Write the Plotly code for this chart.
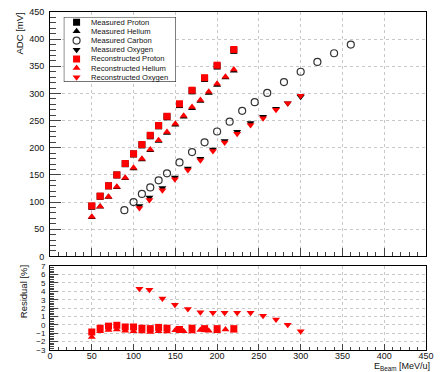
import plotly.graph_objects as go

# Beam energies [MeV/u], reconstructed / measured ADC amplitudes [mV] and residuals [%]
proton_E = [50, 60, 70, 80, 90, 100, 110, 120, 130, 140, 155, 170, 185, 200, 220]
proton_reco = [93, 111, 130, 150, 171, 189, 206, 223, 241, 258, 281, 306, 329, 352, 381]
proton_meas = [92.2, 110.6, 129.8, 149.9, 170.6, 188.5, 205.2, 222.0, 240.3, 257.0, 279.5, 304.8, 327.5, 350.4, 379.3]
proton_res = [-0.85, -0.4, -0.15, -0.05, -0.25, -0.25, -0.4, -0.45, -0.3, -0.4, -0.55, -0.4, -0.45, -0.45, -0.45]

helium_E = [50, 60, 70, 80, 90, 100, 110, 120, 130, 140, 150, 160, 170, 180, 190, 200, 210, 220]
helium_reco = [73, 92, 110, 128, 145, 163, 180, 197, 214, 229, 244, 259, 275, 288, 303, 318, 331, 344]
helium_meas = [71.9, 91.3, 109.3, 127.3, 144.0, 161.8, 178.6, 195.3, 212.4, 227.2, 242.4, 257.1, 272.8, 286.3, 300.9, 315.6, 329.2, 341.6]
helium_res = [-1.45, -0.75, -0.6, -0.55, -0.7, -0.75, -0.8, -0.85, -0.75, -0.8, -0.65, -0.75, -0.8, -0.6, -0.7, -0.75, -0.55, -0.7]

carbon_E = [89, 100, 110, 120, 130, 140, 155, 170, 185, 200, 215, 230, 245, 260, 280, 300, 320, 340, 360]
carbon_meas = [85, 100, 115, 127, 140, 153, 173, 192, 210, 230, 248, 268, 284, 301, 321, 340, 358, 374, 390]

oxygen_E = [107, 119, 134.5, 149.5, 165, 180, 195, 209, 224, 240, 255, 270.5, 284.5, 300]
oxygen_reco = [89, 104, 122, 142, 159, 177, 194, 209.5, 226, 242, 254.5, 270, 282, 296]
oxygen_meas = [92.8, 108.4, 125.8, 145.4, 162.0, 179.7, 196.8, 212.5, 229.3, 245.5, 257.3, 271.8, 282.0, 293.8]
oxygen_res = [4.3, 4.2, 3.15, 2.4, 1.9, 1.5, 1.45, 1.45, 1.45, 1.45, 1.1, 0.65, 0.0, -0.75]

legend_labels = ["Measured Proton", "Measured Helium", "Measured Carbon", "Measured Oxygen",
                 "Reconstructed Proton", "Reconstructed Helium", "Reconstructed Oxygen"]

RED = "#ff0000"
BLACK = "#000000"
FONT = "Liberation Sans, Arial, sans-serif"
TXT = "#111111"

sty = {
    "Measured Proton": dict(symbol="square", color=BLACK, size=7),
    "Measured Helium": dict(symbol="triangle-up", color=BLACK, size=7),
    "Measured Carbon": dict(symbol="circle-open", color="#333333", size=7, line=dict(width=1.2, color="#333333")),
    "Measured Oxygen": dict(symbol="triangle-down", color=BLACK, size=7),
    "Reconstructed Proton": dict(symbol="square", color=RED, size=7),
    "Reconstructed Helium": dict(symbol="triangle-up", color=RED, size=7),
    "Reconstructed Oxygen": dict(symbol="triangle-down", color=RED, size=7),
}

fig = go.Figure()


def pts(x, y, name, xa="x", ya="y"):
    fig.add_trace(go.Scatter(x=x, y=y, mode="markers", marker=sty[name], name=name,
                             showlegend=False, xaxis=xa, yaxis=ya, cliponaxis=False))


# Upper panel: measured (black) beneath reconstructed (red)
pts(proton_E, proton_meas, "Measured Proton")
pts(helium_E, helium_meas, "Measured Helium")
pts(carbon_E, carbon_meas, "Measured Carbon")
pts(oxygen_E, oxygen_meas, "Measured Oxygen")
pts(proton_E, proton_reco, "Reconstructed Proton")
pts(helium_E, helium_reco, "Reconstructed Helium")
pts(oxygen_E, oxygen_reco, "Reconstructed Oxygen")

# Lower panel: residuals
pts(helium_E, helium_res, "Reconstructed Helium", "x2", "y2")
pts(proton_E, proton_res, "Reconstructed Proton", "x2", "y2")
pts(oxygen_E, oxygen_res, "Reconstructed Oxygen", "x2", "y2")

W, H = 441, 372
ml, mr, mt, mb = 50, 9, 7, 22
pw, ph = W - ml - mr, H - mt - mb


def yfrac(py):
    return (H - mb - py) / ph


def xfrac(px):
    return (px - ml) / pw


# Legend drawn on its own small axis pair (pixel-like units inside the box)
LW, LH = 114, 66
row_y = [LH - 5.3 - 9.33 * i for i in range(len(legend_labels))]
for lab, yy in zip(legend_labels, row_y):
    fig.add_trace(go.Scatter(x=[13], y=[yy], mode="markers", marker=sty[lab],
                             showlegend=False, xaxis="x3", yaxis="y3", hoverinfo="skip"))
    fig.add_annotation(x=26, y=yy, xref="x3", yref="y3", text=lab, showarrow=False,
                       xanchor="left", yanchor="middle",
                       font=dict(family=FONT, size=7.6, color=TXT))
fig.add_shape(type="rect", xref="x3", yref="y3", x0=0, x1=LW, y0=0, y1=LH,
              line=dict(color=BLACK, width=1), fillcolor="white", layer="between")

grid = dict(showgrid=True, gridcolor="#c8c8c8", griddash="dot", gridwidth=1)
frame = dict(showline=True, linecolor=BLACK, linewidth=1, mirror=True, zeroline=False)
tickfont = dict(family=FONT, size=9, color=TXT)

fig.update_layout(
    width=W, height=H,
    margin=dict(l=ml, r=mr, t=mt, b=mb),
    paper_bgcolor="white", plot_bgcolor="white",
    showlegend=False,
    font=dict(family=FONT, size=9, color=TXT),
    xaxis=dict(domain=[0, 1], anchor="y", range=[0, 450], dtick=50, ticks="inside", ticklen=8,
               showticklabels=False, minor=dict(dtick=10, ticks="inside", ticklen=4),
               **grid, **frame),
    yaxis=dict(domain=[yfrac(255), 1], anchor="x", range=[0, 450], dtick=50, ticks="inside",
               ticklen=11, tickfont=tickfont, ticklabelstandoff=3,
               minor=dict(dtick=10, ticks="inside", ticklen=6), **grid, **frame),
    xaxis2=dict(domain=[0, 1], anchor="y2", range=[0, 450], dtick=50, ticks="inside", ticklen=6,
                tickfont=tickfont, ticklabelstandoff=-3,
                minor=dict(dtick=10, ticks="inside", ticklen=3), **grid, **frame),
    yaxis2=dict(domain=[0, yfrac(265)], anchor="x2", range=[-3, 7], dtick=1, ticks="inside",
                ticklen=8, tickfont=dict(family=FONT, size=8, color=TXT),
                ticklabelstandoff=2,
                minor=dict(dtick=0.2, ticks="inside", ticklen=4), **grid, **frame),
    xaxis3=dict(domain=[xfrac(64), xfrac(178)], anchor="y3", range=[0, LW], visible=False,
                fixedrange=True),
    yaxis3=dict(domain=[yfrac(78), yfrac(12)], anchor="x3", range=[0, LH], visible=False,
                fixedrange=True),
)

# Axis titles, top / right aligned
fig.add_annotation(text="ADC [mV]", showarrow=False, textangle=-90,
                   xref="paper", yref="paper", x=xfrac(19), y=yfrac(5),
                   xanchor="center", yanchor="top",
                   font=dict(family=FONT, size=9.5, color=TXT))
fig.add_annotation(text="Residual [%]", showarrow=False, textangle=-90,
                   xref="paper", yref="paper", x=xfrac(23), y=yfrac(262),
                   xanchor="center", yanchor="top",
                   font=dict(family=FONT, size=9.5, color=TXT))
fig.add_annotation(text="E<sub>Beam</sub> [MeV/u]", showarrow=False,
                   xref="paper", yref="paper", x=xfrac(437), y=yfrac(360),
                   xanchor="right", yanchor="top", borderpad=0,
                   font=dict(family=FONT, size=9, color=TXT))

fig.write_html("out.html")
